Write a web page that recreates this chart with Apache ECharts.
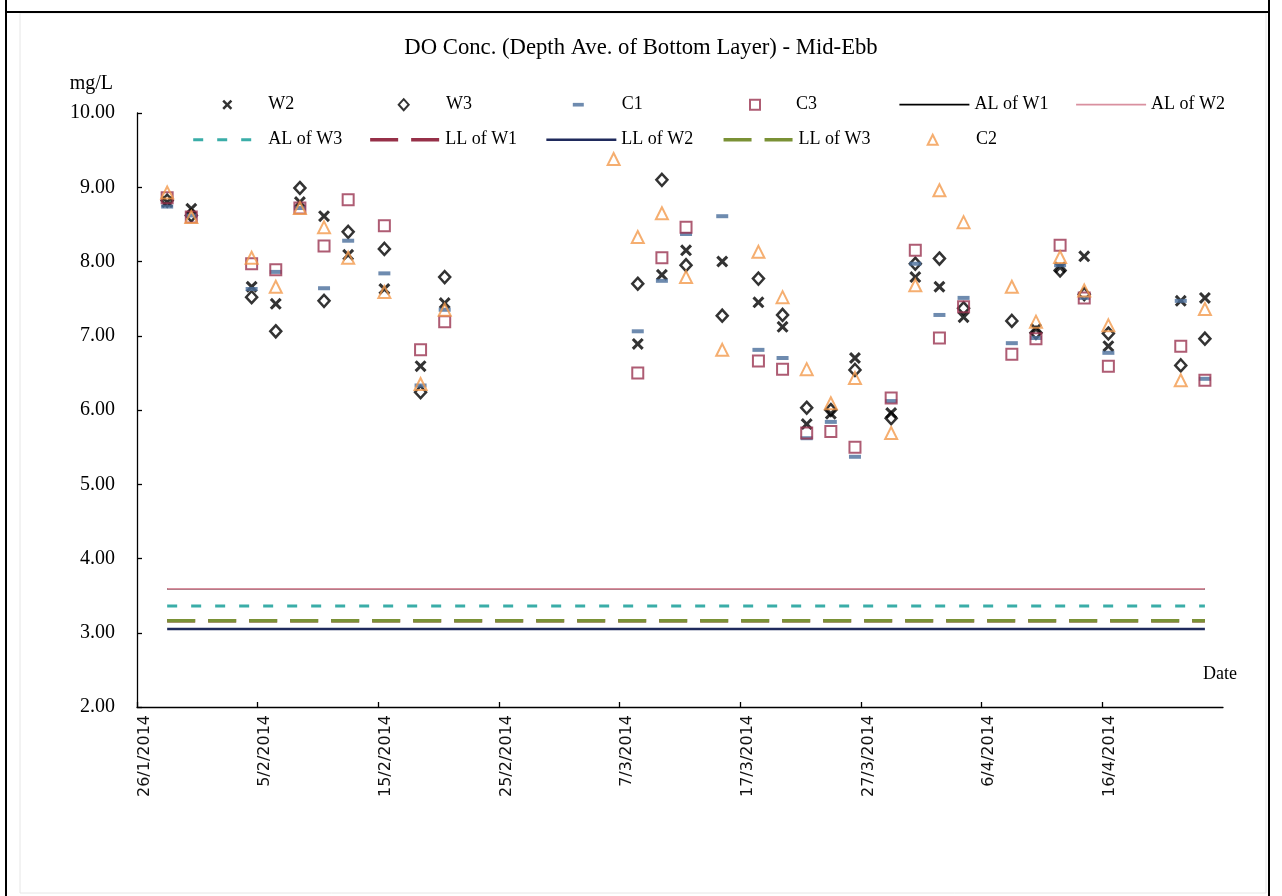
<!DOCTYPE html>
<html>
<head>
<meta charset="utf-8">
<script src="https://cdn.jsdelivr.net/npm/echarts@6/dist/echarts.min.js"></script>
<style>
html,body{margin:0;padding:0;background:#fff;}
#c{width:1282px;height:896px;}
</style>
</head>
<body>
<div id="c"></div>
<script>
// ---- data (x = days after 26/1/2014) ----
const startDate = [2014, 0, 26];
const xMin = 0, xMax = 90, xInterval = 10;
const yMin = 2, yMax = 10, yInterval = 1;

const sampleDays = [2.5, 4.5, 9.5, 11.5, 13.5, 15.5, 17.5, 20.5, 23.5, 25.5,
  39.5, 41.5, 43.5, 45.5, 48.5, 51.5, 53.5, 55.5, 57.5, 59.5,
  62.5, 64.5, 66.5, 68.5, 72.5, 74.5, 76.5, 78.5, 80.5, 86.5, 88.5];

const W2 = [8.80, 8.71, 7.66, 7.43, 8.80, 8.61, 8.09, 7.63, 6.59, 7.44,
  null, 6.89, 7.82, 8.15, 8.00, 7.45, 7.12, 5.81, 5.95, 6.70,
  5.96, 7.79, 7.66, 7.25, null, 7.09, 7.92, 8.07, 6.86, 7.47, 7.51];

const W3 = [8.82, 8.62, 7.52, 7.06, 8.99, 7.47, 8.40, 8.17, 6.24, 7.79,
  null, 7.70, 9.10, 7.95, 7.27, 7.77, 7.28, 6.03, 6.00, 6.54,
  5.89, 7.97, 8.04, 7.37, 7.20, 7.04, 7.88, 7.56, 7.03, 6.60, 6.96];

const C1 = [8.74, 8.62, 7.63, 7.86, 8.72, 7.64, 8.28, 7.84, 6.33, 7.35,
  null, 7.06, 7.74, 8.37, 8.61, 6.81, 6.70, 5.62, 5.84, 5.37,
  6.12, 7.97, 7.28, 7.51, 6.90, 6.97, 7.95, 7.51, 6.77, 7.47, 6.42];

const C3 = [8.86, 8.60, 7.97, 7.89, 8.72, 8.21, 8.83, 8.48, 6.81, 7.19,
  null, 6.50, 8.05, 8.46, null, 6.66, 6.55, 5.69, 5.71, 5.50,
  6.16, 8.15, 6.97, 7.39, 6.75, 6.96, 8.22, 7.51, 6.59, 6.86, 6.40];

const C2 = [8.93, 8.60, 8.05, 7.66, 8.72, 8.46, 8.05, 7.59, 6.35, 7.35,
  9.38, 8.33, 8.65, 7.79, 6.81, 8.13, 7.52, 6.55, 6.09, 6.43,
  5.69, 7.68, 8.96, 8.53, 7.66, 7.19, 8.06, 7.61, 7.14, 6.40, 7.36];

// limit lines (start day, end day, level)
const limitDays = [2.5, 88.5];
const AL_W1 = 3.59, AL_W2 = 3.59, AL_W3 = 3.36;
const LL_W1 = 3.16, LL_W2 = 3.05, LL_W3 = 3.16;

// ---- helpers ----
const serif = 'Liberation Serif';
const base = Date.UTC(startDate[0], startDate[1], startDate[2]);
function fmtDay(v) {
  const d = new Date(base + Math.round(v) * 86400000);
  return d.getUTCDate() + '/' + (d.getUTCMonth() + 1) + '/' + d.getUTCFullYear();
}
function pts(arr) {
  const out = [];
  sampleDays.forEach((d, i) => { if (arr[i] != null) out.push([d, arr[i]]); });
  return out;
}
function lvl(v) { return limitDays.map(d => [d, v]); }

const xPath = 'path://M0,1.8L1.8,0L5,3.2L8.2,0L10,1.8L6.8,5L10,8.2L8.2,10L5,6.8L1.8,10L0,8.2L3.2,5Z';
const dashPath = 'path://M0,0H12V4H0Z';
const hollow = 'rgba(255,255,255,0)';

function scatter(name, data, symbol, size, style) {
  return { name, type: 'scatter', data: pts(data), symbol, symbolSize: size,
    itemStyle: style, emphasis: { disabled: true }, z: 3 };
}

// line styles: name -> [value, colour, width, dash]
const lineDefs = {
  'AL of W1': [AL_W1, '#000000', 1.8, 'solid'],
  'AL of W2': [AL_W2, '#d9909f', 1.8, 'solid'],
  'AL of W3': [AL_W3, '#3aada8', 3, [10, 14]],
  'LL of W1': [LL_W1, '#963048', 3.5, [28, 13]],
  'LL of W2': [LL_W2, '#1f2a5c', 2.5, 'solid'],
  'LL of W3': [LL_W3, '#7a9135', 3.5, [28, 13]]
};
function hline(name) {
  const [v, color, width, type] = lineDefs[name];
  return { name, type: 'line', data: lvl(v), symbol: 'none', showSymbol: false,
    lineStyle: { color, width, type }, itemStyle: { color }, emphasis: { disabled: true }, z: 2 };
}

const series = [
  scatter('W2', W2, xPath, 12, { color: '#000' }),
  scatter('W3', W3, 'diamond', [11, 12], { color: hollow, borderColor: '#000', borderWidth: 2.5 }),
  scatter('C1', C1, dashPath, [12, 4], { color: '#4a6e9b' }),
  scatter('C3', C3, 'rect', 11, { color: hollow, borderColor: '#9a3350', borderWidth: 2 }),
  hline('AL of W1'),
  hline('AL of W2'),
  hline('AL of W3'),
  hline('LL of W1'),
  hline('LL of W2'),
  hline('LL of W3'),
  scatter('C2', C2, 'triangle', 12, { color: hollow, borderColor: '#f39a4c', borderWidth: 2 })
];

// legend layout
const colX = i => 191.7 + 176.7 * i;
const row1Top = 95.7, row2Top = 130.7;
const legendText = { fontFamily: serif, fontSize: 18, color: '#000' };
// marker items: [name, marker centre x, text start x, icon w, icon h, row top]
const markerLegend = [
  ['W2', 227.3, 268.3, 10, 10, row1Top],
  ['W3', 402.7, 445, 10, 11, row1Top],
  ['C1', 578.3, 621.7, 11, 4, row1Top],
  ['C3', 754, 795, 10, 10, row1Top],
  ['C2', 931.7, 975, 10, 10, row2Top]
];
// line items: [name, column, row top]
const lineLegend = [
  ['AL of W1', 4, row1Top], ['AL of W2', 5, row1Top],
  ['AL of W3', 0, row2Top], ['LL of W1', 1, row2Top], ['LL of W2', 2, row2Top], ['LL of W3', 3, row2Top]
];
const legends = markerLegend.map(([name, cx, tx, w, h, top]) => ({
  show: true, left: cx - w / 2, top: top, padding: 0, itemWidth: w, itemHeight: h,
  itemGap: 0, selectedMode: false, data: [name],
  textStyle: Object.assign({ padding: [0, 0, 0, tx - (cx + w / 2 + 5)] }, legendText)
})).concat(lineLegend.map(([name, col, top]) => ({
  show: true, left: colX(col), top: top, padding: 0, itemWidth: 70, itemHeight: 14,
  itemGap: 0, selectedMode: false,
  data: [{ name: name, itemStyle: { opacity: 0 },
    lineStyle: { width: lineDefs[name][2], type: lineDefs[name][3], color: lineDefs[name][1] } }],
  lineStyle: { width: lineDefs[name][2], type: lineDefs[name][3], color: lineDefs[name][1] },
  textStyle: legendText
})));

const chart = echarts.init(document.getElementById('c'), null, { renderer: 'canvas' });
chart.setOption({
  animation: false,
  backgroundColor: '#fff',
  title: {
    text: 'DO Conc. (Depth Ave. of Bottom Layer) - Mid-Ebb',
    left: 'center', top: 37, padding: 0,
    textStyle: { fontFamily: serif, fontSize: 22.7, fontWeight: 'normal', color: '#000' }
  },
  legend: legends,
  grid: { left: 137, right: 59, top: 113, bottom: 189, containLabel: false, outerBoundsMode: 'none' },
  xAxis: {
    type: 'value', min: xMin, max: xMax, interval: xInterval,
    name: 'Date', nameLocation: 'end', nameGap: -3,
    nameTextStyle: { fontFamily: serif, fontSize: 18, color: '#000', align: 'center', verticalAlign: 'bottom', padding: [0, 0, 24, 0] },
    axisLine: { show: true, onZero: false, lineStyle: { color: '#000', width: 1.3 } },
    axisTick: { show: true, inside: true, length: 5, lineStyle: { color: '#000', width: 1.3 } },
    axisLabel: { show: true, rotate: 90, margin: 8, formatter: fmtDay,
      verticalAlign: 'top', lineHeight: 15,
      showMaxLabel: false, showMinLabel: true,
      fontFamily: 'DejaVu Sans', fontSize: 16, color: '#111' },
    splitLine: { show: false }
  },
  yAxis: {
    type: 'value', min: yMin, max: yMax, interval: yInterval,
    name: 'mg/L', nameLocation: 'end', nameGap: 29,
    nameTextStyle: { fontFamily: serif, fontSize: 20, color: '#000', align: 'right', verticalAlign: 'middle', padding: [0, 24, 0, 0] },
    axisLine: { show: true, onZero: false, lineStyle: { color: '#000', width: 1.3 } },
    axisTick: { show: true, inside: true, length: 5, lineStyle: { color: '#000', width: 1.3 } },
    axisLabel: { show: true, margin: 22, formatter: v => v.toFixed(2),
      fontFamily: serif, fontSize: 20, color: '#000' },
    splitLine: { show: false }
  },
  graphic: [
    { type: 'rect', z: -1, silent: true, shape: { x: 20, y: 13, width: 1246, height: 880 },
      style: { fill: 'none', stroke: '#e6e6e6', lineWidth: 1 } },
    { type: 'line', silent: true, shape: { x1: 6, y1: 12, x2: 1270, y2: 12 }, style: { stroke: '#000', lineWidth: 2 } },
    { type: 'line', silent: true, shape: { x1: 6, y1: 0, x2: 6, y2: 896 }, style: { stroke: '#000', lineWidth: 2 } },
    { type: 'line', silent: true, shape: { x1: 1269, y1: 0, x2: 1269, y2: 896 }, style: { stroke: '#000', lineWidth: 2 } }
  ],
  series: series
});
</script>
</body>
</html>
